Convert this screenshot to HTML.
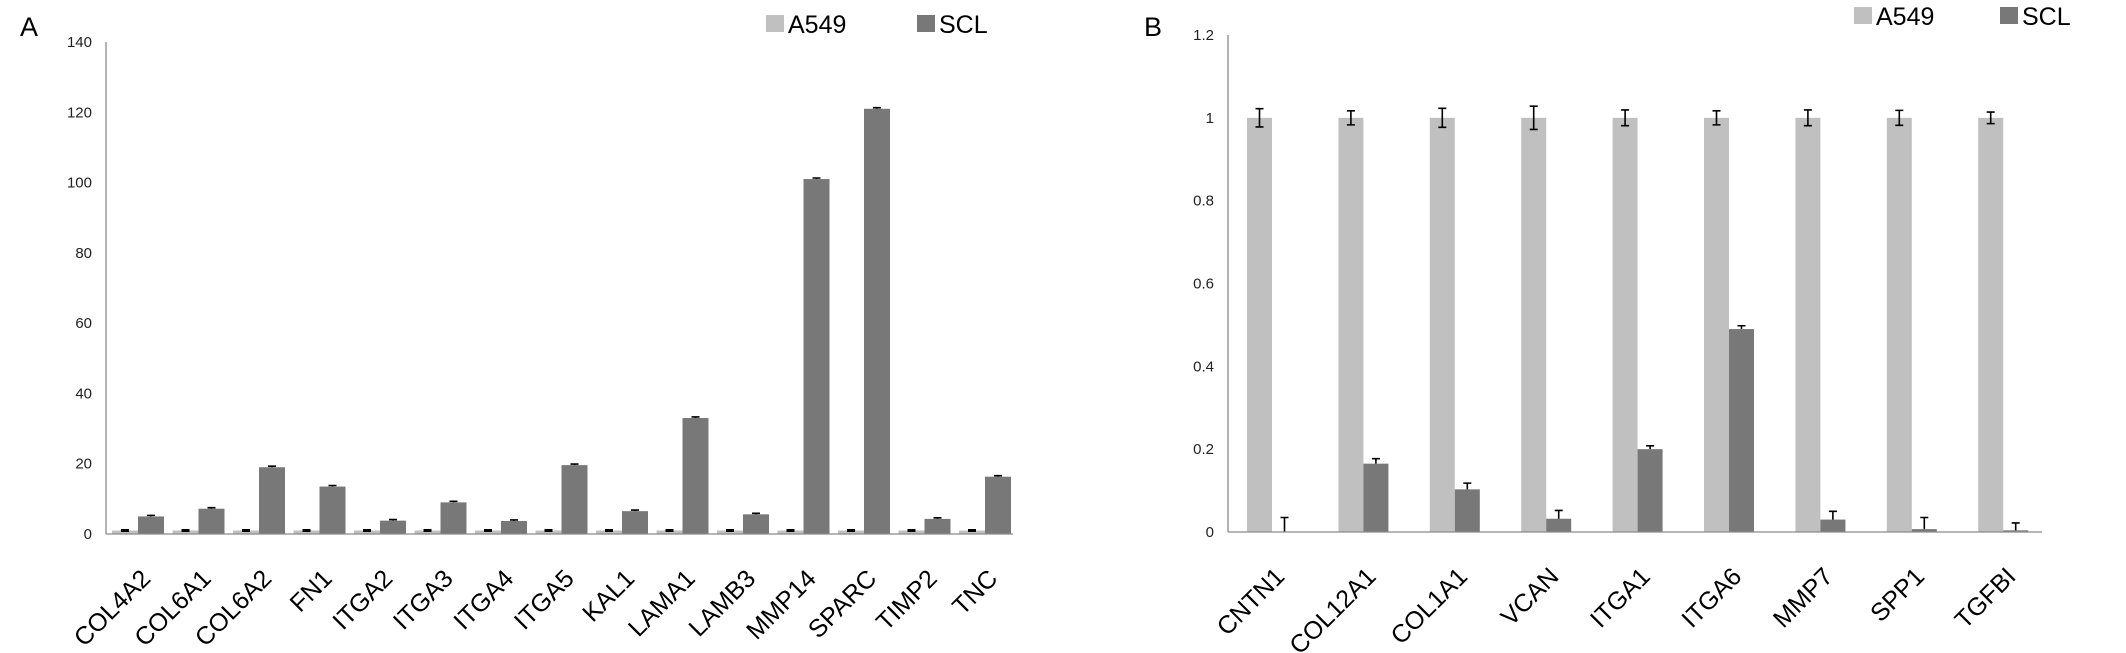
<!DOCTYPE html>
<html><head><meta charset="utf-8"><style>
html,body{margin:0;padding:0;background:#fff;}
svg{display:block;font-family:"Liberation Sans",sans-serif;}
</style></head><body>
<svg id="c" width="2126" height="653" viewBox="0 0 2126 653"></svg>
<script>
const catsA = ["COL4A2","COL6A1","COL6A2","FN1","ITGA2","ITGA3","ITGA4","ITGA5","KAL1","LAMA1","LAMB3","MMP14","SPARC","TIMP2","TNC"];
const a549A = [1,1,1,1,1,1,1,1,1,1,1,1,1,1,1];
const a549ErrA = [0.2,0.2,0.2,0.2,0.2,0.2,0.2,0.2,0.2,0.2,0.2,0.2,0.2,0.2,0.2];
const sclA = [5,7.2,19,13.5,3.8,9,3.7,19.6,6.5,33,5.6,101,121,4.3,16.3];
const sclErrA = [0.3,0.3,0.3,0.3,0.3,0.3,0.3,0.3,0.3,0.3,0.3,0.3,0.3,0.3,0.3];
const ticksA = [0,20,40,60,80,100,120,140];
const tickLabelsA = ["0","20","40","60","80","100","120","140"];

const catsB = ["CNTN1","COL12A1","COL1A1","VCAN","ITGA1","ITGA6","MMP7","SPP1","TGFBI"];
const a549B = [1,1,1,1,1,1,1,1,1];
const a549ErrB = [0.022,0.017,0.023,0.028,0.019,0.017,0.019,0.018,0.014];
const sclB = [0,0.165,0.103,0.032,0.2,0.49,0.03,0.007,0.004];
const sclErrB = [0.035,0.012,0.015,0.02,0.008,0.008,0.02,0.028,0.018];
const ticksB = [0,0.2,0.4,0.6,0.8,1,1.2];
const tickLabelsB = ["0","0.2","0.4","0.6","0.8","1","1.2"];

const NS="http://www.w3.org/2000/svg";
const svg=document.getElementById('c');
function mk(tag,attrs,parent){const e=document.createElementNS(NS,tag);for(const k in attrs)e.setAttribute(k,attrs[k]);(parent||svg).appendChild(e);return e;}

function panel(o){
  const g=mk('g',{});
  
  
  const y=v=>o.y0-(v/o.max)*(o.y0-o.yTop);
  const step=o.step;
  const letter=mk('text',{x:o.lx,y:36,'font-size':27,fill:'#000'},g);letter.textContent=o.letter;
  
  
  const ya=mk('line',{x1:o.x0,y1:o.yTop,x2:o.x0,y2:o.y0,stroke:'#8a8a8a','stroke-width':1.3},g);
  
  
  o.ticks.forEach((t,i)=>{
    const tl=mk('text',{x:o.x0-14,y:y(t)+5,'font-size':15,'text-anchor':'end',fill:'#222'},g);
    tl.textContent=o.tickLabels[i];
    
    
  });
  o.cats.forEach((c,i)=>{
    const gx=o.x0+i*step+o.off;
    const vals=[[o.a,o.ae,'#c0c0c0',true],[o.s,o.se,'#787878',false]];
    vals.forEach((v,j)=>{
      const bx=gx+j*o.bw, val=v[0][i], err=v[1][i];
      const r=mk('rect',{x:bx,y:y(val),width:o.bw,height:o.y0-y(val),fill:v[2]},g);
      
      
      const cx=bx+o.bw/2, yt=y(val+err), yb=v[3]?y(val-err):y(val);
      const eb=mk('path',{d:`M${cx},${yt}V${yb}M${cx-4},${yt}H${cx+4}`+(v[3]?`M${cx-4},${yb}H${cx+4}`:''),stroke:'#000','stroke-width':1.6,fill:'none'},g);
      
      
    });
    const lx=gx+o.bw+14, ly=o.y0+46;
    const t=mk('text',{x:lx,y:ly,'font-size':25,'text-anchor':'end',fill:'#000',transform:`rotate(-45 ${lx} ${ly})`},g);
    t.textContent=c;
    
    
  });
  const xa=mk('line',{x1:o.x0,y1:o.y0,x2:o.x1,y2:o.y0,stroke:'#8a8a8a','stroke-width':1.3},g);
  
  
  [[o.leg[0],'#c0c0c0','A549'],[o.leg[1],'#787878','SCL']].forEach(l=>{
    const lg=mk('g',{},g);
    
    
    mk('rect',{x:l[0],y:o.legY,width:18,height:17,fill:l[1]},lg);
    const tt=mk('text',{x:l[0]+22,y:o.legY+18,'font-size':25,fill:'#000'},lg);tt.textContent=l[2];
  });
}
panel({id:'panel-a',letter:'A',lx:20,x0:106,x1:1013,step:60.5,y0:534,yTop:42,max:140,cats:catsA,a:a549A,ae:a549ErrA,s:sclA,se:sclErrA,ticks:ticksA,tickLabels:tickLabelsA,bw:26,off:6,leg:[766,917],legY:15});
panel({id:'panel-b',letter:'B',lx:1144,x0:1228,x1:2042,step:91.4,y0:532,yTop:35,max:1.2,cats:catsB,a:a549B,ae:a549ErrB,s:sclB,se:sclErrB,ticks:ticksB,tickLabels:tickLabelsB,bw:25,off:19,leg:[1854,2000],legY:7});
</script>
</body></html>
